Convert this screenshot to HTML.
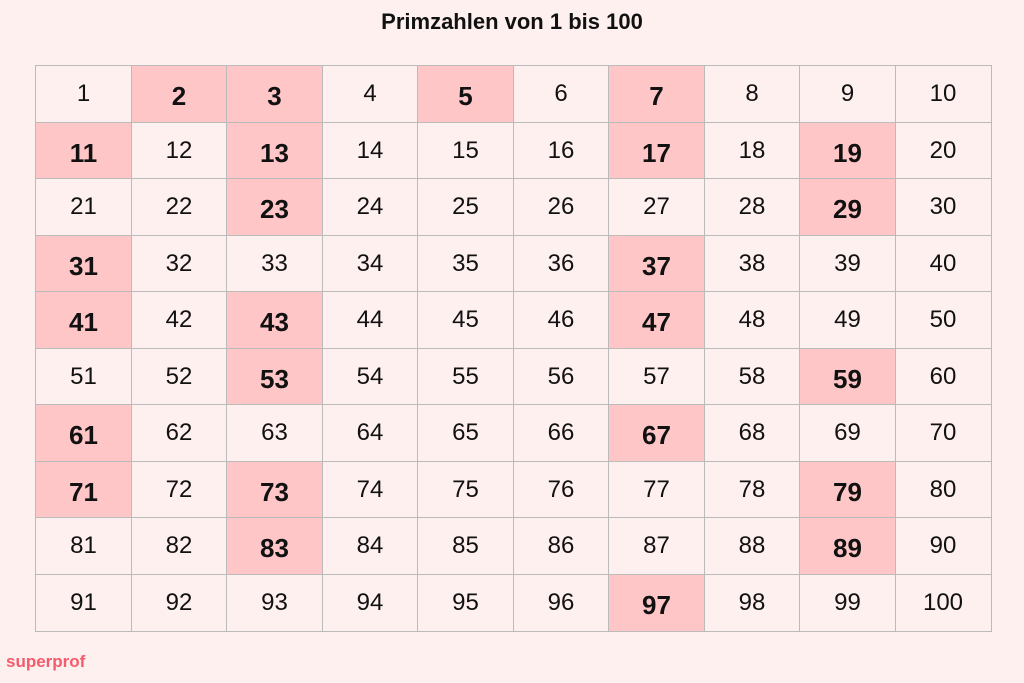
<!DOCTYPE html>
<html><head><meta charset="utf-8"><style>
html,body{margin:0;padding:0}
body{width:1024px;height:683px;background:#fff0f0;position:relative;overflow:hidden;font-family:"Liberation Sans",sans-serif}
h1{position:absolute;top:9px;left:0;width:1024px;text-align:center;margin:0;font-size:22px;font-weight:bold;color:#111}
.c{position:absolute;box-sizing:border-box;border:1.5px solid #bbb;text-align:center;font-size:24px;color:#111;background:#fff0f0}
.c.p{background:#fec6c7;font-weight:bold;font-size:26px}
.logo{position:absolute;left:6px;top:652px;color:#f45b6b;font-weight:bold;font-size:17px}
</style></head><body>
<h1>Primzahlen von 1 bis 100</h1>
<div id="g"></div>
<div class="logo">superprof</div>
<script>
var pr=[2,3,5,7,11,13,17,19,23,29,31,37,41,43,47,53,59,61,67,71,73,79,83,89,97];
var W=95.5,H=56.5,h="";
for(var r=0;r<10;r++){for(var c=0;c<10;c++){var n=r*10+c+1;var p=pr.indexOf(n)>=0;
h+='<div class="c'+(p?' p':'')+'" style="left:'+(35+c*W)+'px;top:'+(65+r*H)+'px;width:'+(W+1.5)+'px;height:'+(H+1.5)+'px;line-height:'+(p?H+4:H)+'px">'+n+'</div>';}}
document.getElementById("g").innerHTML=h;
</script>
</body></html>
